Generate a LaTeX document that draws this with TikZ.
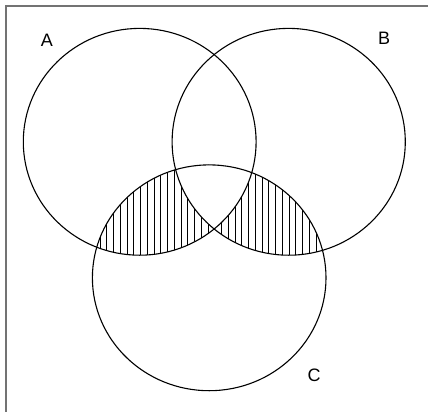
\documentclass[tikz,border=0pt]{standalone}
\usepackage{fontspec}
\setmainfont{Liberation Sans}
\begin{document}
\begin{tikzpicture}[x=1pt,y=-1pt,
  circ/.style={draw=black,line width=1.1pt},
  hatch/.style={draw=black,line width=0.8pt},
  frame/.style={draw=black!55,line width=1.4pt},
  lbl/.style={font=\fontsize{18}{20}\selectfont,anchor=base,inner sep=0pt}]
\useasboundingbox (0,0) rectangle (428,412);
\def\pathA{(139.7,141.8) ellipse [x radius=116.4, y radius=113.4]}
\def\pathB{(288.7,141.8) ellipse [x radius=116.6, y radius=113.4]}
\def\pathC{(209.2,277.8) ellipse [x radius=116.8, y radius=112.9]}
% frame (top and left only)
\draw[frame] (428,6) -- (6,6) -- (6,412);
% hatching A and C
\begin{scope}
  \clip \pathA; \clip \pathC;
  \foreach \i in {0,...,33} {\draw[hatch] (100+6.75*\i,150) -- (100+6.75*\i,270);}
\end{scope}
% hatching B and C
\begin{scope}
  \clip \pathB; \clip \pathC;
  \foreach \i in {0,...,33} {\draw[hatch] (100+6.75*\i,150) -- (100+6.75*\i,270);}
\end{scope}
% clear the triple overlap
\begin{scope}
  \clip \pathA; \clip \pathB;
  \fill[white] \pathC;
\end{scope}
\draw[circ] \pathA;
\draw[circ] \pathB;
\draw[circ] \pathC;
\node[lbl] (la) at (47,46.5) {A};
\node[lbl] (lb) at (384,44.7) {B};
\node[lbl] (lc) at (314,381.5) {C};
\end{tikzpicture}
\end{document}
